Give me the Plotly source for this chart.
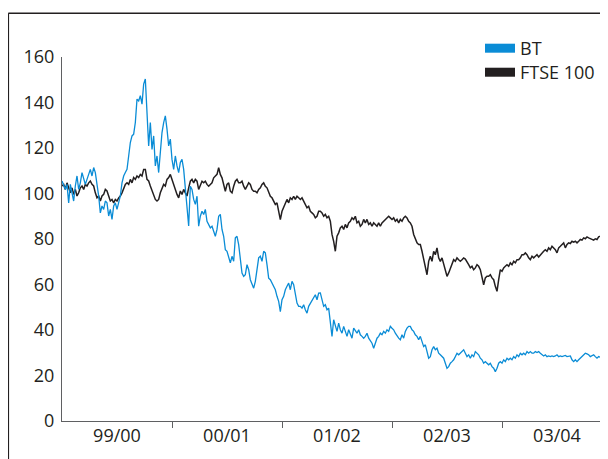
import plotly.graph_objects as go

# Fiscal year labels (April-March years)
years = ["99/00", "00/01", "01/02", "02/03", "03/04"]

# Rebased share price index (start = 100), sampled every 1/66 of a year from 1 April 1999
bt = [
    105.5, 104.0, 101.8, 104.0, 95.9, 104.0, 100.3, 96.7, 103.3, 107.7,
    101.8, 104.7, 109.2, 106.2, 104.0, 106.2, 108.4, 110.6, 107.7, 111.4,
    109.2, 104.7, 98.9, 91.5, 94.5, 93.0, 96.7, 95.9, 90.1, 93.0,
    88.6, 94.5, 95.9, 93.0, 96.7, 98.9, 104.7, 107.7, 109.2, 110.6,
    116.5, 122.4, 125.3, 126.1, 131.2, 141.5, 140.7, 143.0, 139.3, 148.1,
    150.3, 137.1, 120.9, 131.2, 119.4, 125.3, 112.1, 116.5, 109.2, 118.0,
    126.8, 131.2, 134.1, 128.3, 120.9, 123.9, 115.0, 110.6, 116.5, 112.1,
    109.2, 113.6, 115.0, 110.6, 103.3, 93.0, 85.7,
    103.2, 101.8, 97.4, 95.2, 98.8, 85.6, 90.0, 92.2, 90.8, 93.0,
    87.8, 86.3, 84.9, 85.6, 83.4, 81.2, 84.2, 90.0, 90.8, 84.2,
    81.2, 75.3, 74.6, 72.4, 69.5, 72.4, 70.2, 80.5, 81.2, 77.5,
    70.9, 65.0, 63.6, 64.3, 68.7, 66.5, 62.1, 59.9, 58.4, 61.4,
    66.5, 71.7, 72.4, 70.2, 74.6, 73.9, 68.7, 62.8, 62.1, 60.6,
    59.2, 57.7, 54.8, 52.6, 48.1, 53.3, 54.8, 57.7, 59.2, 60.6,
    57.7, 61.4, 59.9, 56.2, 51.8, 50.4, 50.4, 49.6, 51.1, 48.9,
    47.4, 50.4, 51.8, 53.3, 54.0, 55.5, 53.3, 56.2,
    56.3, 52.6, 50.4, 51.1, 48.9, 49.6, 44.5, 37.2, 44.5, 41.6,
    39.4, 43.0, 40.1, 38.6, 41.6, 39.4, 37.2, 40.1, 37.9, 36.4,
    40.8, 39.4, 38.6, 40.1, 37.9, 37.2, 36.4, 37.2, 38.6, 36.4,
    35.0, 34.2, 32.0, 34.2, 36.4, 37.2, 38.6, 37.9, 39.4, 38.6,
    40.1, 39.4, 41.6, 40.8, 40.1, 38.6, 37.2, 36.4, 35.7, 37.9,
    36.4, 39.4, 40.8, 41.6, 41.6, 40.1, 39.4, 37.9, 37.2, 35.7,
    37.2, 35.0, 32.7, 33.5, 29.8, 27.6, 28.3, 31.3, 32.7, 31.3,
    32.0, 29.8, 29.1, 28.3, 27.6, 25.4, 23.2, 23.9, 25.4, 26.1,
    26.9, 28.3, 29.8, 29.1,
    29.8, 30.5, 31.3, 29.8, 28.3, 29.1, 27.6, 29.1, 28.3, 30.5,
    29.8, 29.1, 27.6, 26.9, 25.4, 26.1, 25.4, 24.7, 25.4, 23.9,
    23.2, 21.7, 23.2, 25.4, 26.1, 25.4, 26.9, 26.1, 27.6, 26.9,
    27.6, 26.9, 28.3, 27.6, 29.1, 28.3, 29.8, 29.1, 29.8, 29.1,
    30.5, 29.8, 30.5, 29.8, 29.8, 30.5, 30.1, 30.5, 29.8, 29.1,
    28.6, 29.1, 28.3, 28.6, 28.3, 28.6, 28.3, 28.6, 29.1, 28.3,
    28.6, 28.3, 28.6, 28.8, 28.3, 28.3, 28.6, 26.9, 26.1, 26.9,
    26.1, 26.9, 27.6, 28.3, 29.1, 29.8, 29.5, 29.1, 28.3, 28.6,
    29.1, 28.3, 27.6, 28.3, 28.0, 28.3, 28.6, 28.3, 28.8,
]

ftse = [
    103.3, 104.0, 101.8, 104.7, 102.5, 100.3, 102.5, 99.6, 101.8, 98.9,
    100.3, 102.5, 103.3, 101.8, 104.0, 103.3, 104.7, 105.5, 104.0, 103.3,
    100.3, 98.1, 98.9, 96.7, 98.9, 99.6, 101.8, 101.1, 98.9, 96.7,
    97.4, 95.9, 97.4, 96.7, 98.1, 98.9, 100.3, 102.5, 104.0, 104.7,
    104.0, 106.2, 104.7, 107.0, 106.2, 107.7, 107.0, 108.4, 107.7, 110.6,
    110.6, 106.2, 105.5, 103.3, 101.1, 98.9, 97.4, 96.7, 97.4, 100.3,
    101.8, 104.0, 103.3, 106.2, 107.0, 108.4, 106.2, 104.0, 101.1, 99.6,
    98.1, 101.1, 99.6, 101.8, 100.3, 98.9, 102.5,
    105.4, 106.2, 104.7, 106.2, 105.4, 101.8, 104.0, 105.4, 104.7, 105.4,
    104.0, 103.2, 104.0, 104.7, 106.9, 107.6, 108.4, 111.3, 108.4, 106.9,
    104.0, 101.0, 104.0, 104.7, 101.0, 100.3, 103.2, 105.4, 106.2, 104.7,
    104.7, 105.4, 103.2, 101.8, 103.2, 104.7, 104.0, 101.8, 101.0, 101.0,
    100.3, 101.8, 102.5, 104.0, 104.7, 103.2, 102.5, 101.0, 98.8, 98.1,
    96.6, 95.2, 95.9, 92.2, 88.5, 92.2, 93.7, 95.9, 97.4, 95.9,
    98.1, 97.4, 98.8, 97.4, 98.8, 98.1, 97.4, 98.1, 96.6, 95.2,
    93.7, 94.4, 92.2, 91.5, 90.8, 89.3, 90.0, 92.2,
    92.2, 91.5, 90.0, 90.8, 89.3, 90.0, 87.8, 82.0, 79.0, 74.6,
    81.2, 82.7, 84.9, 85.6, 84.2, 86.4, 84.9, 87.1, 87.8, 89.3,
    88.6, 90.0, 87.1, 87.8, 85.6, 86.4, 88.6, 87.1, 88.6, 86.4,
    87.1, 85.6, 87.1, 86.4, 85.6, 87.1, 85.6, 87.1, 87.8, 88.6,
    89.3, 90.0, 89.3, 88.6, 89.3, 87.8, 88.6, 87.1, 88.6, 87.8,
    89.3, 90.0, 89.3, 87.8, 87.1, 85.6, 82.0, 80.5, 78.3, 77.6,
    77.6, 74.6, 70.9, 67.3, 64.3, 70.2, 72.4, 70.2, 74.6, 73.1,
    76.1, 71.7, 70.2, 71.7, 68.7, 66.5, 63.6, 65.1, 67.3, 69.5,
    70.9, 70.2, 71.7, 70.9,
    70.2, 70.9, 71.7, 71.2, 70.2, 68.7, 67.3, 68.0, 66.5, 67.3,
    68.7, 68.0, 66.5, 63.6, 59.9, 62.9, 63.6, 63.6, 64.3, 62.9,
    62.1, 59.2, 57.0, 62.1, 66.5, 65.8, 67.3, 68.0, 68.7, 68.0,
    69.5, 68.7, 70.2, 69.5, 70.9, 70.9, 71.7, 73.1, 73.1, 73.9,
    73.1, 71.7, 70.9, 72.4, 71.7, 72.4, 73.1, 72.1, 73.1, 73.9,
    74.6, 75.3, 74.6, 76.1, 75.3, 76.8, 76.1, 75.3, 73.9, 76.1,
    76.8, 77.6, 78.3, 76.1, 77.6, 78.3, 78.0, 79.0, 78.6, 79.0,
    78.3, 79.0, 79.8, 79.5, 80.5, 80.1, 80.9, 80.5, 80.1, 79.8,
    79.5, 80.1, 79.8, 80.9, 81.2, 81.5, 82.0, 82.4, 82.0,
]

SAMPLES_PER_YEAR = 66
t_bt = [i / SAMPLES_PER_YEAR for i in range(len(bt))]
t_ftse = [i / SAMPLES_PER_YEAR for i in range(len(ftse))]

BLUE = "#0a8cd6"
BLACK = "#231f20"
AXIS = "#5f6062"
FONT = "Open Sans"

fig = go.Figure()
fig.add_trace(go.Scatter(x=t_ftse, y=ftse, mode="lines", name="FTSE 100",
                         line=dict(color=BLACK, width=1.5), showlegend=False))
fig.add_trace(go.Scatter(x=t_bt, y=bt, mode="lines", name="BT",
                         line=dict(color=BLUE, width=1.3), showlegend=False))
# legend entries (thick swatches), one legend box each
fig.add_trace(go.Scatter(x=[None], y=[None], mode="lines", name="BT",
                         line=dict(color=BLUE, width=9), legend="legend"))
fig.add_trace(go.Scatter(x=[None], y=[None], mode="lines", name="FTSE 100",
                         line=dict(color=BLACK, width=9), legend="legend2"))

legend_style = dict(xanchor="left", yanchor="top", bgcolor="rgba(0,0,0,0)",
                    font=dict(size=18, color=BLACK, family=FONT))

fig.update_layout(
    width=608, height=459,
    margin=dict(l=54, r=8, t=49, b=46),
    paper_bgcolor="white", plot_bgcolor="white",
    font=dict(family=FONT, size=18, color=BLACK),
    legend=dict(x=0.7656, y=1.0742, **legend_style),
    legend2=dict(x=0.7656, y=1.0082, **legend_style),
    xaxis=dict(
        range=[0, 546 / 110], showgrid=False, zeroline=False,
        showline=True, linecolor=AXIS, linewidth=1.2,
        tickvals=[i + 0.5 for i in range(len(years))], ticktext=years,
        ticks="", ticklabelstandoff=-2, tickfont=dict(size=18, color=BLACK),
        minor=dict(tickvals=[1, 2, 3, 4], ticks="outside", ticklen=6,
                   tickcolor=AXIS, tickwidth=1.2, showgrid=False),
    ),
    yaxis=dict(
        range=[0, 160], dtick=20, showgrid=False, zeroline=False,
        showline=True, linecolor=AXIS, linewidth=1.2, ticks="",
        ticklabelstandoff=3,
        tickfont=dict(size=18, color=BLACK),
    ),
    shapes=[
        dict(type="line", xref="paper", yref="paper",
             x0=-0.0983, x1=-0.0983, y0=-0.2, y1=1.1201,
             line=dict(color=BLACK, width=1.5)),
        dict(type="line", xref="paper", yref="paper",
             x0=-0.0983, x1=1.03, y0=1.1201, y1=1.1201,
             line=dict(color=BLACK, width=1.5)),
    ],
)

fig.write_html("out.html")
